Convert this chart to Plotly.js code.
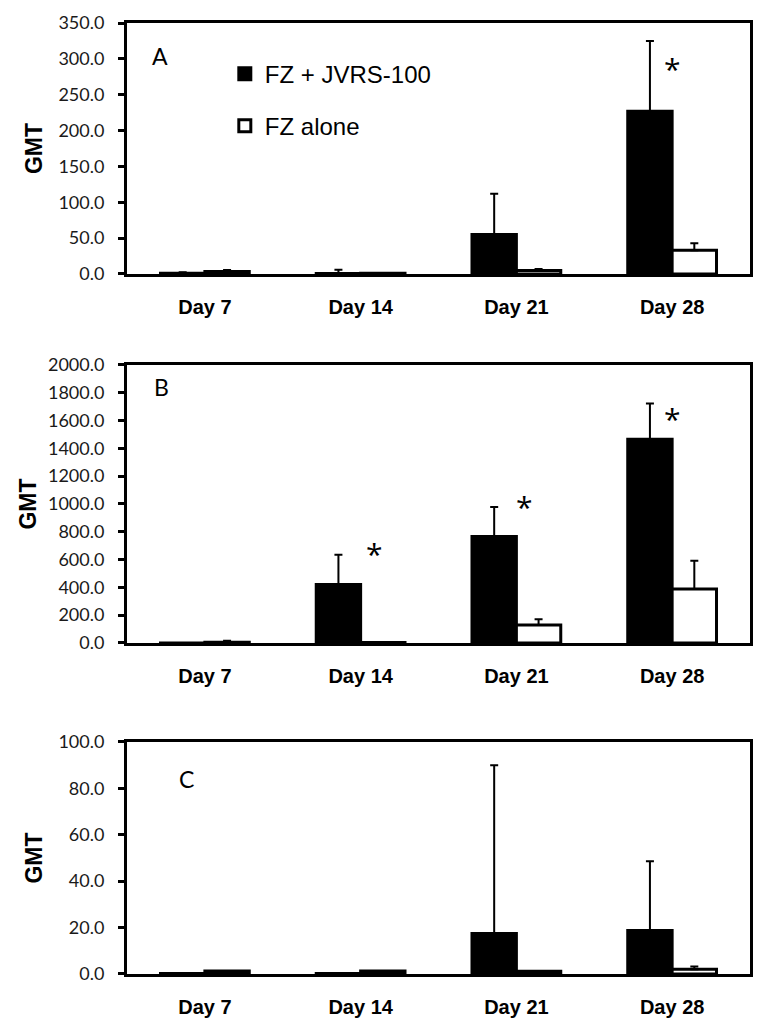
<!DOCTYPE html>
<html>
<head>
<meta charset="utf-8">
<script src="https://cdn.plot.ly/plotly-3.0.1.min.js"></script>
<style>
html,body{margin:0;padding:0;background:#fff;}
#chart{width:771px;height:1033px;}
</style>
</head>
<body>
<div id="chart"></div>
<script>
// ---- data ----
var days = ['Day 7', 'Day 14', 'Day 21', 'Day 28'];
var seriesNames = ['FZ + JVRS-100', 'FZ alone'];

var A_combo = [1.0, 0.5, 55, 227];
var A_combo_err = [1.3, 5.5, 57, 98];
var A_alone = [3.3, 1.0, 4.7, 33];
var A_alone_err = [2.3, 0, 2.3, 10];

var B_combo = [0.5, 420, 766, 1465];
var B_combo_err = [0, 215, 212, 258];
var B_alone = [5, 3, 129, 389];
var B_alone_err = [10, 0, 41, 202];

var C_combo = [0.2, 0.2, 17.5, 18.7];
var C_combo_err = [0, 0, 72.5, 29.9];
var C_alone = [1.3, 1.3, 1.2, 2.0];
var C_alone_err = [0, 0, 0, 1.2];

var A_ticks = [0, 50, 100, 150, 200, 250, 300, 350];
var B_ticks = [0, 200, 400, 600, 800, 1000, 1200, 1400, 1600, 1800, 2000];
var C_ticks = [0, 20, 40, 60, 80, 100];

// significance markers
var starDays = [3, 1, 2, 3];
var starPanels = ['A', 'B', 'B', 'B'];
var starValues = [287, 645, 980, 1615];
var starOffsets = [0.0, 0.09, 0.05, 0.0];

// ---- build ----
var tickFont = {family: 'Lato, "Open Sans", sans-serif', size: 18, color: '#1a1a1a'};
var dayFont = {family: '"Liberation Sans", Arial, sans-serif', size: 20, color: '#000'};

function bars(y, err, name, fill, xa, ya, show) {
  return {
    type: 'bar', x: days, y: y, name: name,
    xaxis: xa, yaxis: ya, showlegend: show, legendgroup: name,
    marker: {color: fill, line: {color: '#000', width: 3}},
    error_y: {type: 'data', symmetric: false, array: err, arrayminus: err.map(function(){return 0;}),
              color: '#000', thickness: 2, width: 4}
  };
}

var data = [
  bars(A_combo, A_combo_err, seriesNames[0], '#000', 'x', 'y', true),
  bars(A_alone, A_alone_err, seriesNames[1], '#fff', 'x', 'y', true),
  bars(B_combo, B_combo_err, seriesNames[0], '#000', 'x2', 'y2', false),
  bars(B_alone, B_alone_err, seriesNames[1], '#fff', 'x2', 'y2', false),
  bars(C_combo, C_combo_err, seriesNames[0], '#000', 'x3', 'y3', false),
  bars(C_alone, C_alone_err, seriesNames[1], '#fff', 'x3', 'y3', false)
];

function xaxis(anchor) {
  return {
    anchor: anchor, domain: [0, 1], type: 'category',
    showline: true, mirror: true, linecolor: '#000', linewidth: 3,
    ticks: '', tickfont: dayFont, ticklabelstandoff: 13,
    showgrid: false, zeroline: false, fixedrange: true,
    tickvals: days, ticktext: days.map(function(d){return '<b>' + d + '</b>';})
  };
}
function yaxis(anchor, dom, maxv, ticks, standoff) {
  return {
    anchor: anchor, domain: dom, range: [0, maxv],
    showline: true, mirror: true, linecolor: '#000', linewidth: 3,
    ticks: 'outside', ticklen: 6, tickwidth: 3, tickcolor: '#000', ticklabelstandoff: 10,
    tickvals: ticks, ticktext: ticks.map(function(v){return v.toFixed(1);}),
    tickfont: tickFont, showgrid: false, zeroline: false,
    title: {text: '<b>GMT</b>', font: {family: '"Liberation Sans", Arial, sans-serif', size: 23, color: '#000'}, standoff: standoff}
  };
}

var annotations = [];
var letters = [['A', 'x domain', 'y domain', 0.053, 0.87], ['B', 'x2 domain', 'y2 domain', 0.056, 0.92], ['C', 'x3 domain', 'y3 domain', 0.095, 0.84]];
letters.forEach(function(l){
  annotations.push({text: l[0], xref: l[1], yref: l[2], x: l[3], y: l[4], showarrow: false,
    font: {family: 'Lato, "Open Sans", sans-serif', size: 23, color: '#000'}, xanchor: 'center', yanchor: 'middle'});
});
var axMap = {A: ['x', 'y'], B: ['x2', 'y2'], C: ['x3', 'y3']};
for (var i = 0; i < starDays.length; i++) {
  annotations.push({text: '*', xref: axMap[starPanels[i]][0], yref: axMap[starPanels[i]][1],
    x: starDays[i] + starOffsets[i], y: starValues[i], showarrow: false,
    font: {family: '"Open Sans", sans-serif', size: 30, color: '#000'}, xanchor: 'center', yanchor: 'middle'});
}

var layout = {
  width: 771, height: 1033,
  margin: {l: 127, r: 21, t: 23, b: 59},
  paper_bgcolor: '#fff', plot_bgcolor: '#fff',
  barmode: 'group', bargap: 0.43, bargroupgap: 0,
  xaxis: xaxis('y'), xaxis2: xaxis('y2'), xaxis3: xaxis('y3'),
  yaxis: yaxis('x', [0.7361, 1], 350, A_ticks, 10),
  yaxis2: yaxis('x2', [0.3481, 0.6404], 2000, B_ticks, 5),
  yaxis3: yaxis('x3', [0, 0.2440], 100, C_ticks, 10),
  showlegend: true,
  legend: {x: 0.157, y: 0.970, xanchor: 'left', yanchor: 'top', bgcolor: 'rgba(0,0,0,0)',
    traceorder: 'grouped', tracegroupgap: 18, itemwidth: 30,
    font: {family: '"Liberation Sans", Arial, sans-serif', size: 24, color: '#000'}},
  annotations: annotations
};

Plotly.newPlot('chart', data, layout, {displayModeBar: false, staticPlot: true});
</script>
</body>
</html>
